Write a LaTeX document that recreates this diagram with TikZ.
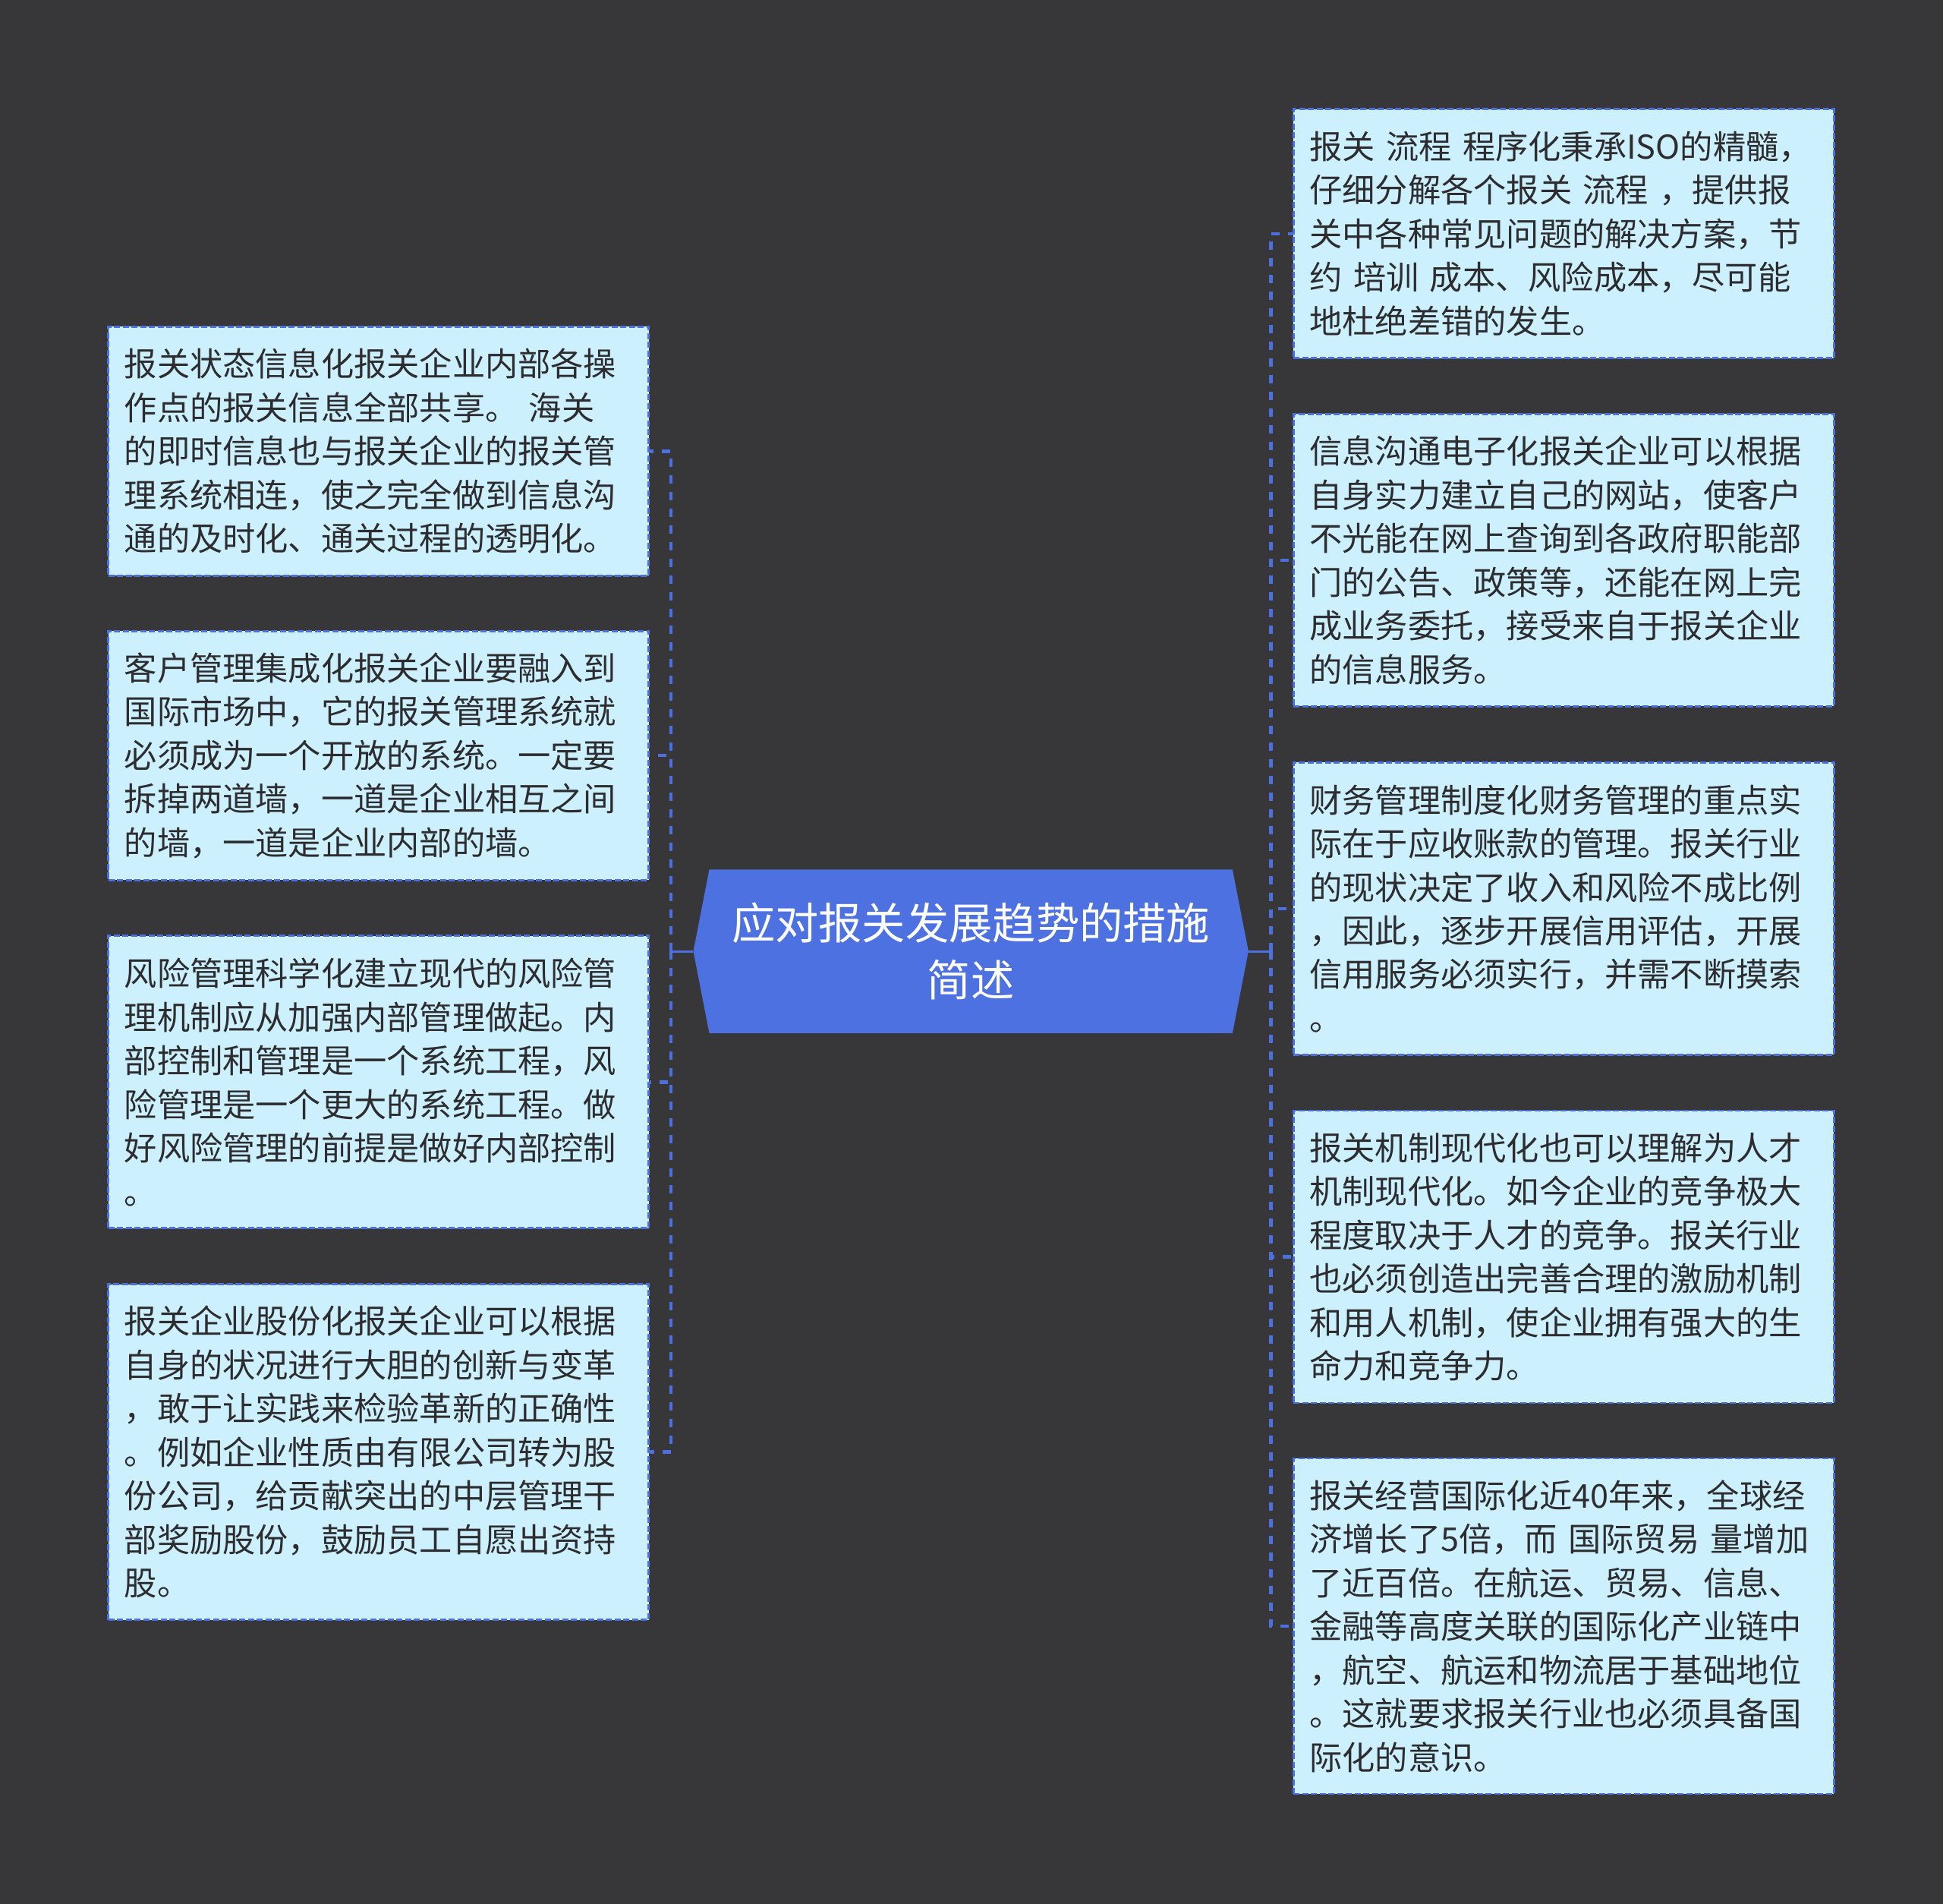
\documentclass[tikz,border=0pt]{standalone}
\usepackage{fontspec}
\setmainfont{Noto Sans CJK SC}
\usetikzlibrary{backgrounds}

\definecolor{bggray}{RGB}{55,54,56}
\definecolor{boxcyan}{RGB}{204,240,253}
\definecolor{linkblue}{RGB}{76,112,224}
\definecolor{topicblue}{RGB}{77,113,224}
\definecolor{inktext}{RGB}{45,45,48}

\begin{document}
\begin{tikzpicture}[x=0.16327mm,y=-0.16327mm,
  box/.style={draw=linkblue,fill=boxcyan,line width=0.28mm,dash pattern=on 0.8mm off 0.35mm,
    text width=67mm,inner xsep=2.1mm,inner ysep=0pt,align=left,text=inktext,
    font=\fontsize{12.3pt}{16.35pt}\selectfont},
  topic/.style={minimum width=73mm,minimum height=21.4mm,inner sep=0pt,align=center,
    text=white,font=\fontsize{16.3pt}{21.5pt}\selectfont},
  link/.style={draw=linkblue,line width=0.45mm,dash pattern=on 1.1mm off 1.1mm},
  stem/.style={draw=linkblue,line width=0.3mm}]

\node[topic] (root) at (783.5,767.5) {应对报关发展趋势的措施\\简述};

% left column
\node[box,minimum height=32.8mm] (l1) at (305.5,364) {报关状态信息化报关企业内部各操\\
作点的报关信息全部共享。~海关\\
的即时信息也与报关企业的报关管\\
理系统相连，使之完全做到信息沟\\
通的及时化、通关过程的透明化。};
\node[box,minimum height=32.8mm] (l2) at (305.5,609.5) {客户管理集成化报关企业要融入到\\
国际市场中，它的报关管理系统就\\
必须成为一个开放的系统。一定要\\
拆掉两道墙，一道是企业相互之间\\
的墙，一道是企业内部的墙。};
\node[box,minimum height=38.5mm] (l3) at (305.5,873) {风险管理科学化建立现代的风险管\\
理机制应从加强内部管理做起。内\\
部控制和管理是一个系统工程，风\\
险管理是一个更大的系统工程。做\\
好风险管理的前提是做好内部控制\\
。};
\node[box,minimum height=44.2mm] (l4) at (305.5,1171.5) {报关企业股份化报关企业可以根据\\
自身的状况进行大胆的创新与变革\\
，敢于让实践来检验革新的正确性\\
。例如企业性质由有限公司转为股\\
份公司，给贡献突出的中层管理干\\
部奖励股份，鼓励员工自愿出资持\\
股。};

% right column
\node[box,minimum height=32.8mm] (r1) at (1262,188.5) {报关~流程~程序化秉承ISO的精髓，\\
仔细分解各个报关~流程~，提供报\\
关中各种常见问题的解决方案，节\\
约~培训~成本、风险成本，尽可能\\
地杜绝差错的发生。};
\node[box,minimum height=38.5mm] (r2) at (1262,452) {信息沟通电子化报关企业可以根据\\
自身实力建立自己的网站，使客户\\
不光能在网上查询到各政府职能部\\
门的公告、政策等，还能在网上完\\
成业务委托，接受来自于报关企业\\
的信息服务。};
\node[box,minimum height=38.5mm] (r3) at (1262,733) {财务管理制度化财务管理的重点实\\
际在于应收账款的管理。报关行业\\
的现状决定了收入和风险不成比例\\
，因此，逐步开展信用评估，开展\\
信用服务必须实行，并需不断摸索\\
。};
\node[box,minimum height=38.5mm] (r4) at (1262,1014) {报关机制现代化也可以理解为人才\\
机制现代化。如今企业的竞争极大\\
程度取决于人才的竞争。报关行业\\
也必须创造出完善合理的激励机制\\
和用人机制，使企业拥有强大的生\\
命力和竞争力。};
\node[box,minimum height=44.2mm] (r5) at (1262,1312) {报关经营国际化近40年来，全球经\\
济增长了5倍，而~国际贸易~量增加\\
了近百倍。在航运、贸易、信息、\\
金融等高度关联的国际化产业链中\\
，航空、航运和物流居于基础地位\\
。这就要求报关行业也必须具备国\\
际化的意识。};

\begin{scope}[on background layer]
\fill[bggray] (0,0) rectangle (1568,1536);
\fill[topicblue] (root.west) -- ([xshift=2.1mm]root.north west) -- ([xshift=-2.1mm]root.north east)
  -- (root.east) -- ([xshift=-2.1mm]root.south east) -- ([xshift=2.1mm]root.south west) -- cycle;
\draw[stem] (root.west) -- ++(-18,0) coordinate (ljoint);
\draw[stem] (root.east) -- ++(18,0) coordinate (rjoint);
\foreach \b in {l1,l2,l3,l4} \draw[link] (ljoint) |- (\b.east);
\foreach \b in {r1,r2,r3,r4,r5} \draw[link] (rjoint) |- (\b.west);
\end{scope}
\end{tikzpicture}
\end{document}
